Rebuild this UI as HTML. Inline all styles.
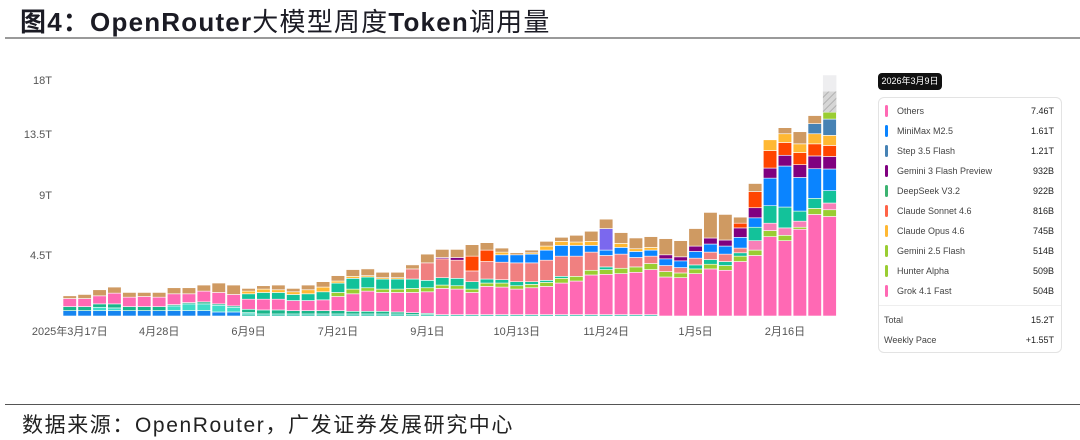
<!DOCTYPE html>
<html><head><meta charset="utf-8"><style>
body{margin:0;width:1080px;height:440px;background:#fff;position:relative;overflow:hidden;font-family:"Liberation Sans","Noto Sans CJK SC",sans-serif}
.title{position:absolute;left:20px;top:2px;font-size:26px;font-weight:bold;color:#1b1b24;letter-spacing:1.2px}
.title .cj{font-weight:normal}
.rule{position:absolute;left:5px;right:0;height:2px;background:#9a9a9a}
.src{position:absolute;left:22px;top:409px;font-size:21px;color:#222;letter-spacing:1.6px}
.chip{position:absolute;left:878px;top:73px;width:64px;height:17px;background:#111;border-radius:4px;color:#fff;font-size:9px;line-height:17px;text-align:center}
.card{position:absolute;left:878px;top:97px;width:184px;height:256px;border:1px solid #e3e3e3;border-radius:6px;box-sizing:border-box}
.row{position:absolute;left:6px;right:7px;height:14px;font-size:9px;color:#444;line-height:14px}
.row .sw{position:absolute;left:0;top:1px;width:3px;height:12px;border-radius:2px}
.row .nm{position:absolute;left:12px}
.row .v{position:absolute;right:0;color:#222}
</style></head><body>
<div class="title">图4：OpenRouter<span class="cj">大模型周度</span>Token<span class="cj">调用量</span></div>
<div class="rule" style="top:37px"></div>
<div class="rule" style="top:404px;height:1px;background:#555"></div>
<div class="src">数据来源：OpenRouter，广发证券发展研究中心</div>
<svg id="chart" width="870" height="360" style="position:absolute;left:0;top:50px"></svg>
<div class="chip">2026年3月9日</div>
<div class="card" id="card"></div>
<script>
const categories=[];for(let i=0;i<52;i++){categories.push('w'+(i+1));}
const xTickLabels=['2025年3月17日','4月28日','6月9日','7月21日','9月1日','10月13日','11月24日','1月5日','2月16日'];
const xTickIndex=[0,6,12,18,24,30,36,42,48];
const yTicks=[4.5,9,13.5,18];
const yTickLabels=['4.5T','9T','13.5T','18T'];
const baseBlue=[.4,.4,.4,.4,.4,.4,.4,.4,.4,.4,.3,.3,0,0,0,0,0,0,0,0,0,0,0,0,0,0,0,0,0,0,0,0,0,0,0,0,0,0,0,0,0,0,0,0,0,0,0,0,0,0,0,0];
const baseTeal=[0,0,0,0,0,0,0,0,0,0,0,0,.15,.15,.15,.15,.15,.15,.15,.15,.15,.15,.15,.1,.1,.1,.1,.1,.1,.1,.1,.1,.1,.1,.1,.1,.1,.1,.1,.1,0,0,0,0,0,0,0,0,0,0,0,0];
const turq=[0,0,.25,.2,0,0,0,.35,.5,.5,.5,.35,.1,0,0,0,0,0,0,0,0,0,0,0,0,0,0,0,0,0,0,0,0,0,0,0,0,0,0,0,0,0,0,0,0,0,0,0,0,0,0,0];
const green=[.3,.3,.25,.3,.3,.3,.3,.1,.1,.15,.1,.1,.25,.3,.3,.25,.25,.25,.25,.2,.2,.2,.15,.15,.1,0,0,0,0,0,0,0,0,0,0,0,0,0,0,0,0,0,0,0,0,0,0,0,0,0,0,0];
const pink=[.6,.6,.6,.8,.7,.75,.7,.8,.65,.8,.85,.85,.75,.8,.8,.75,.75,.8,1.05,1.3,1.5,1.4,1.45,1.5,1.6,1.95,1.9,1.65,2.1,2.05,1.9,2.0,2.1,2.35,2.5,2.95,3.0,3.05,3.15,3.35,2.9,2.85,3.15,3.5,3.4,4.05,4.5,5.9,5.6,6.45,7.55,7.4];
const lime=[0,0,0,0,0,0,0,0,0,0,0,0,0,0,0,0,0,0,.3,.35,.25,.25,.25,.3,.3,.25,.25,.25,.25,.3,.25,.25,.3,.35,.35,.35,.35,.4,.4,.45,.4,.35,.35,.35,.35,.4,.4,.45,.4,.15,.45,.5];
const salmonPink=[0,0,0,0,0,0,0,0,0,0,0,0,0,0,0,0,0,0,0,0,0,0,0,0,0,0,0,0,0,0,0,0,0,0,0,0,0,0,0,0,0,0,0,0,0,0,.7,.55,.55,.45,0,.5];
const green2=[0,0,0,0,0,0,0,0,0,0,0,0,.4,.5,.5,.45,.5,.6,.7,.8,.8,.75,.75,.7,.55,.55,.55,.55,.3,.25,.3,.2,.15,.15,0,0,.2,0,0,0,0,0,.3,.35,.3,.25,1.0,1.3,1.55,.75,.75,.92];
const salmon=[0,0,0,0,0,0,0,0,0,0,0,0,0,0,0,0,0,0,0,0,0,0,0,.75,1.3,1.4,1.35,.8,1.3,1.3,1.4,1.4,1.5,1.5,1.5,1.35,.85,1.05,.7,.55,.45,.4,.5,.55,.55,.35,0,0,0,0,0,0];
const blue=[0,0,0,0,0,0,0,0,0,0,0,0,0,0,0,0,0,0,0,0,0,0,0,0,0,0,0,0,0,.55,.6,.65,.75,.8,.8,.5,.4,.5,.45,.45,.5,.5,.5,.6,.6,.8,.7,2.05,3.05,2.5,2.2,1.61];
const purple=[0,0,0,0,0,0,0,0,0,0,0,0,0,0,0,0,0,0,0,0,0,0,0,0,0,.1,.2,0,0,0,0,0,0,0,0,0,0,0,0,0,.3,.3,.4,.45,.45,.7,.75,.75,.8,.95,.95,.93];
const violet=[0,0,0,0,0,0,0,0,0,0,0,0,0,0,0,0,0,0,0,0,0,0,0,0,0,0,0,0,0,0,0,0,0,0,0,0,1.6,0,0,0,0,0,0,0,0,0,0,0,0,0,0,0];
const red=[0,0,0,0,0,0,0,0,0,0,0,0,0,0,0,0,0,0,0,0,0,0,0,0,0,0,0,1.1,.85,0,0,0,0,0,0,0,0,0,0,0,0,0,0,0,0,.35,1.2,1.3,.95,.9,.9,.82];
const yellow=[0,0,0,0,0,0,0,0,0,0,0,0,.2,.25,.2,.2,.3,.35,.15,.15,.1,.1,.1,0,0,0,0,0,0,.2,0,.1,.3,.3,.25,.3,0,.3,.2,.2,0,0,0,0,0,0,0,.8,.65,.65,.75,.75];
const steel=[0,0,0,0,0,0,0,0,0,0,0,0,0,0,0,0,0,0,0,0,0,0,0,0,0,0,0,0,0,0,0,0,0,0,0,0,0,0,0,0,0,0,0,0,0,0,0,0,0,0,.75,1.21];
const misc=[.2,.3,.45,.45,.35,.3,.35,.45,.45,.45,.7,.7,.2,.25,.35,.25,.35,.4,.4,.5,.5,.4,.4,.3,.65,.6,.6,.85,.55,.3,.15,.2,.35,.3,.5,.75,.7,.8,.8,.8,1.2,1.2,1.3,1.9,1.9,.45,.6,0,.45,.9,.6,0];
const hunter=[0,0,0,0,0,0,0,0,0,0,0,0,0,0,0,0,0,0,0,0,0,0,0,0,0,0,0,0,0,0,0,0,0,0,0,0,0,0,0,0,0,0,0,0,0,0,0,0,0,0,0,.51];
const paceProjected=[0,0,0,0,0,0,0,0,0,0,0,0,0,0,0,0,0,0,0,0,0,0,0,0,0,0,0,0,0,0,0,0,0,0,0,0,0,0,0,0,0,0,0,0,0,0,0,0,0,0,0,1.55];
const paceRemainder=[0,0,0,0,0,0,0,0,0,0,0,0,0,0,0,0,0,0,0,0,0,0,0,0,0,0,0,0,0,0,0,0,0,0,0,0,0,0,0,0,0,0,0,0,0,0,0,0,0,0,0,1.2];
const seriesList=[[baseBlue,'#1685f0','base-blue'],[baseTeal,'#1fbfa6','base-teal'],[turq,'#3fdcc8','turquoise'],[green,'#19b58a','green'],[pink,'#ff69b4','others-pink'],[lime,'#9acd32','lime'],[salmonPink,'#f77fb8','pink2'],[green2,'#13c29a','green2'],[salmon,'#f08080','salmon'],[blue,'#0a84ff','minimax-blue'],[purple,'#800080','purple'],[violet,'#7b68ee','violet'],[red,'#ff4500','red'],[yellow,'#ffb833','yellow'],[steel,'#4682b4','steel'],[misc,'#cf9a62','misc'],[hunter,'#9acd32','hunter-lime']];
const NS='http://www.w3.org/2000/svg';
const svg=document.getElementById('chart');
const OY=50, zeroY=316-OY, pxPerT=13.45, x0=63, pitch=14.9, bw=13.5;
function y(v){return zeroY-v*pxPerT;}
function x(i){return x0+i*pitch;}
function mk(t,a){const e=document.createElementNS(NS,t);for(const k in a)e.setAttribute(k,a[k]);svg.appendChild(e);return e;}
const defs=document.createElementNS(NS,'defs');defs.innerHTML='<pattern id="hatch" width="5" height="5" patternUnits="userSpaceOnUse" patternTransform="rotate(45)"><rect width="5" height="5" fill="#d6d6d6"/><line x1="0" y1="0" x2="0" y2="5" stroke="#b0b0b0" stroke-width="2"/></pattern>';svg.appendChild(defs);
const labY=[255,195,134,80];
yTicks.forEach((t,k)=>{const tx=mk('text',{x:52,y:labY[k]-OY+4,'text-anchor':'end','font-size':'11','fill':'#555'});tx.textContent=yTickLabels[k];

});
xTickIndex.forEach((ix,k)=>{const tx=mk('text',{x:x(ix)+bw/2,y:335-OY,'text-anchor':'middle','font-size':'11','fill':'#555'});tx.textContent=xTickLabels[k];

});
categories.forEach((c,i)=>{let acc=0;
 seriesList.forEach(s=>{const v=s[0][i];if(v>0){const r=mk('rect',{x:x(i),y:y(acc+v),width:bw,height:v*pxPerT,fill:s[1],stroke:'#fff','stroke-width':'0.6'});
 
 acc+=v;}});
 if(paceProjected[i]>0){const r=mk('rect',{x:x(i),y:y(acc+paceProjected[i]),width:bw,height:paceProjected[i]*pxPerT,fill:'url(#hatch)'});
 
 acc+=paceProjected[i];}
 if(paceRemainder[i]>0){const r=mk('rect',{x:x(i),y:y(acc+paceRemainder[i]),width:bw,height:paceRemainder[i]*pxPerT,fill:'#eeeef0'});
 
 }
});
const legNames=['Others','MiniMax M2.5','Step 3.5 Flash','Gemini 3 Flash Preview','DeepSeek V3.2','Claude Sonnet 4.6','Claude Opus 4.6','Gemini 2.5 Flash','Hunter Alpha','Grok 4.1 Fast'];
const legValues=['7.46T','1.61T','1.21T','932B','922B','816B','745B','514B','509B','504B'];
const legColors=['#ff69b4','#0a84ff','#4682b4','#800080','#3cb371','#ff6347','#ffb833','#9acd32','#9acd32','#ff69b4'];
const card=document.getElementById('card');
legNames.forEach((n,k)=>{const d=document.createElement('div');d.className='row';d.style.top=(6+k*20)+'px';


d.innerHTML='<span class="sw" style="background:'+legColors[k]+'"></span><span class="nm">'+n+'</span><span class="v">'+legValues[k]+'</span>';card.appendChild(d);});
const hr=document.createElement('div');hr.style.cssText='position:absolute;left:0;right:0;top:207px;height:1px;background:#eee';card.appendChild(hr);
[['Total','15.2T',215],['Weekly Pace','+1.55T',235]].forEach(r=>{const d=document.createElement('div');d.className='row';d.style.top=r[2]+'px';d.style.left='5px';


d.innerHTML='<span class="nm" style="left:0">'+r[0]+'</span><span class="v">'+r[1]+'</span>';card.appendChild(d);});
</script>
</body></html>
